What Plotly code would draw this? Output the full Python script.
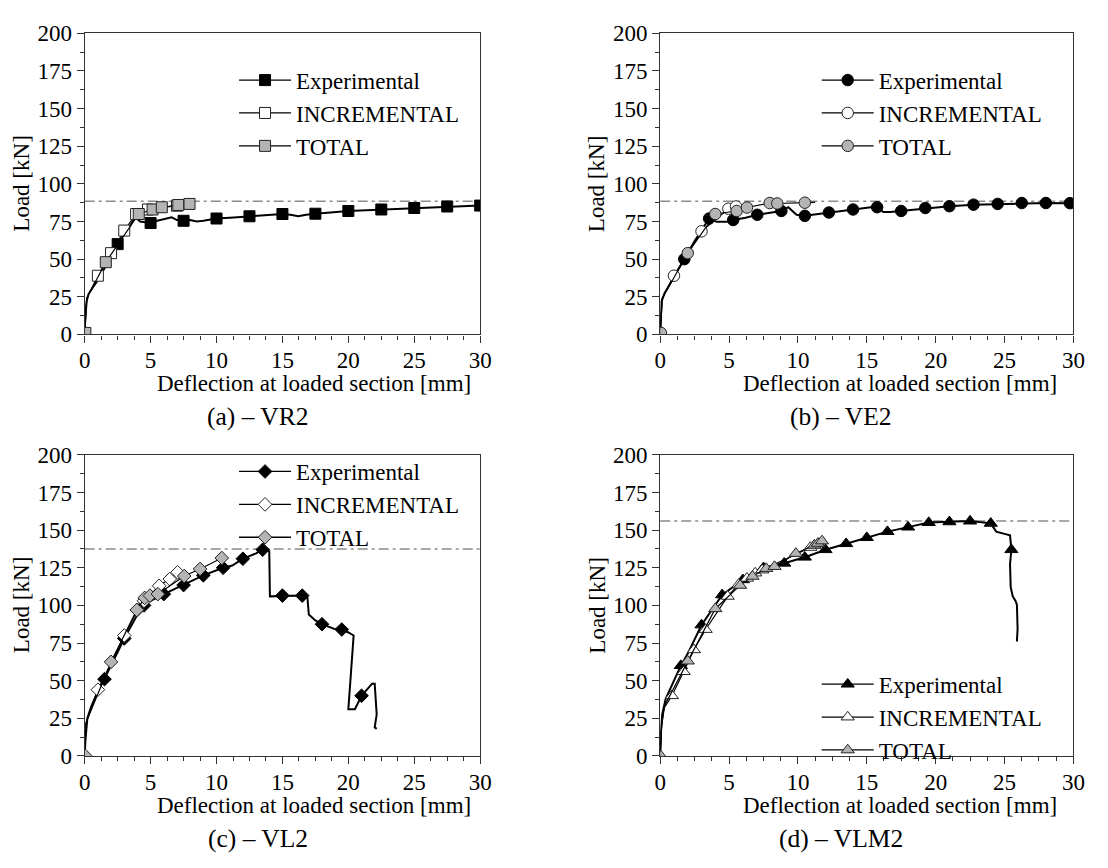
import plotly.graph_objects as go

FONT = "Liberation Serif, Times New Roman, serif"
FS = 23
W, H = 1108, 868

legend_names = ["Experimental", "INCREMENTAL", "TOTAL"]
x_title = "Deflection at loaded section [mm]"
y_title = "Load [kN]"
captions = ["(a) – VR2", "(b) – VE2", "(c) – VL2", "(d) – VLM2"]

# ---------------- (a) VR2 ----------------
a_exp_x = [0, 0.05, 0.15, 0.3, 0.6, 1.0, 1.5, 2.0, 2.5, 3.0, 3.5, 3.85, 4.2, 4.5, 5.0, 5.5, 6.0, 6.6, 7.0, 7.5,
           8.0, 8.5, 9.0, 10.0, 11.0, 12.5, 14.0, 15.0, 15.6, 16.2, 16.8, 17.5, 20.0, 22.5, 25.0, 27.5, 30.0]
a_exp_y = [0, 12, 22, 27, 31, 36, 44, 52, 60, 67, 73, 78, 75, 74.5, 74, 75.5, 76.5, 77.8, 76, 75.5,
           76, 75, 75.5, 77, 77.5, 78.5, 79.5, 80, 79.5, 78.5, 79.5, 80.2, 82, 83, 84, 85, 85.6]
a_exp_mx = [2.5, 5.0, 7.5, 10.0, 12.5, 15.0, 17.5, 20.0, 22.5, 25.0, 27.5, 30.0]
a_exp_my = [60, 74, 75.5, 77, 78.5, 80, 80.2, 82, 83, 84, 85, 85.6]
a_inc_x = [0, 0.15, 1.0, 2.0, 3.0, 3.9, 4.8, 7.0]
a_inc_y = [0, 24, 39, 54, 69, 80, 83, 85.5]
a_inc_mx = [1.0, 2.0, 3.0, 3.9, 4.8, 7.0]
a_inc_my = [39, 54, 69, 80, 83, 85.5]
a_tot_x = [0, 0.15, 1.6, 4.1, 5.15, 5.85, 7.1, 7.95]
a_tot_y = [0, 24, 48, 80, 83, 84.5, 86, 86.7]
a_tot_mx = [0.05, 1.6, 4.1, 5.15, 5.85, 7.1, 7.95]
a_tot_my = [1, 48, 80, 83, 84.5, 86, 86.7]
a_peak = 88.5

# ---------------- (b) VE2 ----------------
b_exp_x = [0, 0.1, 0.3, 1.0, 1.75, 2.5, 3.2, 3.55, 4.1, 5.0, 5.3, 6.2, 7.05, 8.0, 8.8, 9.3, 9.9, 10.5, 11.5, 12.25,
           14.0, 15.3, 15.75, 16.2, 16.7, 17.5, 19.25, 21.0, 22.75, 24.5, 26.25, 28.0, 29.75, 30.0]
b_exp_y = [0, 22, 27, 38, 50, 62, 72, 77, 74.8, 74.8, 76, 77.5, 79.5, 81, 82, 84.5, 79.5, 78.8, 80, 81,
           83, 84.5, 84.5, 81.3, 81.3, 82, 84, 85.2, 86.2, 86.7, 87.3, 87.3, 87.2, 87.2]
b_exp_mx = [1.75, 3.55, 5.3, 7.05, 8.8, 10.5, 12.25, 14.0, 15.75, 17.5, 19.25, 21.0, 22.75, 24.5, 26.25, 28.0, 29.75]
b_exp_my = [50, 77, 76, 79.5, 82, 78.8, 81, 83, 84.5, 82, 84, 85.2, 86.2, 86.7, 87.3, 87.3, 87.2]
b_inc_x = [0, 0.15, 1.0, 3.0, 4.95, 5.5]
b_inc_y = [0, 24, 39, 68.5, 83.5, 85]
b_inc_mx = [1.0, 3.0, 4.95, 5.5]
b_inc_my = [39, 68.5, 83.5, 85]
b_tot_x = [0, 0.15, 2.0, 4.0, 5.55, 6.3, 7.95, 8.5, 10.5, 11.25]
b_tot_y = [0, 24, 54, 80, 82, 84.3, 87.3, 87, 87.5, 87.7]
b_tot_mx = [0.05, 2.0, 4.0, 5.55, 6.3, 7.95, 8.5, 10.5]
b_tot_my = [1, 54, 80, 82, 84.3, 87.3, 87, 87.5]
b_peak = 88.5

# ---------------- (c) VL2 ----------------
c_exp_x = [0, 0.05, 0.2, 0.5, 1.0, 1.5, 2.0, 3.0, 4.0, 4.5, 5.0, 6.0, 7.5, 9.0, 10.5, 11.2, 12.0, 13.0, 13.5, 14.0,
           14.05, 14.5, 15.0, 16.5, 16.9, 17.0, 17.5, 18.0, 18.9, 19.5, 20.0, 20.4, 20.0, 20.5, 21.0, 21.8, 22.0, 22.15, 22.0, 22.15]
c_exp_y = [0, 10, 25, 33, 43, 51, 60, 78, 94, 100, 103, 107.5, 113.5, 120, 125, 126.5, 131, 134.5, 137, 136,
           106, 106, 106.5, 106.5, 105, 94, 90, 87.5, 84.5, 84, 82, 80, 31, 31, 40, 48, 48, 27.5, 19, 18]
c_exp_mx = [1.5, 3.0, 4.5, 6.0, 7.5, 9.0, 10.5, 12.0, 13.5, 15.0, 16.5, 18.0, 19.5, 21.0]
c_exp_my = [51, 78, 100, 107.5, 113.5, 120, 125, 131, 137, 106.5, 106.5, 87.5, 84, 40]
c_inc_x = [0, 0.1, 1.0, 3.0, 4.0, 4.5, 5.65, 6.45, 7.05]
c_inc_y = [0, 22, 44, 80, 97, 103, 113, 117.5, 122]
c_inc_mx = [1.0, 3.0, 4.0, 4.5, 5.65, 6.45, 7.05]
c_inc_my = [44, 80, 97, 103, 113, 117.5, 122]
c_tot_x = [0, 0.1, 2.0, 3.95, 4.55, 4.95, 5.55, 7.55, 8.75, 10.4]
c_tot_y = [0, 22, 62.5, 97, 105, 106.5, 107.5, 119.5, 124.2, 131.5]
c_tot_mx = [0.05, 2.0, 3.95, 4.55, 4.95, 5.55, 7.55, 8.75, 10.4]
c_tot_my = [0, 62.5, 97, 105, 106.5, 107.5, 119.5, 124.2, 131.5]
c_peak = 137.5

# ---------------- (d) VLM2 ----------------
d_exp_x = [0, 0.05, 0.15, 0.4, 1.0, 1.5, 2.0, 3.0, 4.5, 6.0, 7.5, 9.0, 10.5, 12.0, 13.5, 15.0, 16.5, 18.0, 19.5, 21.0,
           22.5, 24.0, 24.4, 25.0, 25.4, 25.5, 25.4, 25.45, 25.6, 25.8, 25.9, 25.95, 25.9]
d_exp_y = [0, 15, 28, 38, 50, 60, 68, 87, 107, 117, 125, 128, 132, 137, 141, 145, 149, 152, 155, 155.5,
           156, 154.5, 149, 147.5, 146.5, 137, 127.5, 112, 106, 103, 100.5, 84.5, 76]
d_exp_mx = [1.5, 3.0, 4.5, 6.0, 7.5, 9.0, 10.5, 12.0, 13.5, 15.0, 16.5, 18.0, 19.5, 21.0, 22.5, 24.0, 25.5]
d_exp_my = [60, 87, 107, 117, 125, 128, 132, 137, 141, 145, 149, 152, 155, 155.5, 156, 154.5, 137]
d_inc_x = [0, 0.1, 0.3, 0.85, 1.7, 2.45, 3.3, 4.9, 5.7, 6.3, 6.9, 7.4, 10.9, 11.2, 11.5]
d_inc_y = [0, 20, 32, 40, 56, 70.5, 84, 106, 114, 118, 121.5, 123.5, 138.5, 140, 141]
d_inc_mx = [0.85, 1.7, 2.45, 3.3, 4.9, 5.7, 6.3, 6.9, 7.4, 10.9, 11.2, 11.5]
d_inc_my = [40, 56, 70.5, 84, 106, 114, 118, 121.5, 123.5, 138.5, 140, 141]
d_tot_x = [0, 0.1, 0.3, 2.0, 4.0, 5.8, 6.7, 7.7, 8.3, 9.85, 11.2, 11.45, 11.75]
d_tot_y = [0, 20, 33, 63, 97.8, 113.3, 119.3, 124.5, 125.8, 134.5, 140, 141.2, 142.8]
d_tot_mx = [0.05, 2.0, 4.0, 5.8, 6.7, 7.7, 8.3, 9.85, 11.2, 11.45, 11.75]
d_tot_my = [0, 63, 97.8, 113.3, 119.3, 124.5, 125.8, 134.5, 140, 141.2, 142.8]
d_peak = 156

x_range = [0, 30]
y_range = [0, 200]

# ---------------- layout geometry (pixels) ----------------
cols_px = [(80, 482), (665, 1085)]
rows_px = [(22, 332), (456, 766)]

panels = [
    dict(exp=(a_exp_x, a_exp_y), expm=(a_exp_mx, a_exp_my), inc=(a_inc_x, a_inc_y), incm=(a_inc_mx, a_inc_my),
         tot=(a_tot_x, a_tot_y), totm=(a_tot_mx, a_tot_my), peak=a_peak, sym="square", size=11,
         col=0, row=0, leg_top=48),
    dict(exp=(b_exp_x, b_exp_y), expm=(b_exp_mx, b_exp_my), inc=(b_inc_x, b_inc_y), incm=(b_inc_mx, b_inc_my),
         tot=(b_tot_x, b_tot_y), totm=(b_tot_mx, b_tot_my), peak=b_peak, sym="circle", size=11.5,
         col=1, row=0, leg_top=48),
    dict(exp=(c_exp_x, c_exp_y), expm=(c_exp_mx, c_exp_my), inc=(c_inc_x, c_inc_y), incm=(c_inc_mx, c_inc_my),
         tot=(c_tot_x, c_tot_y), totm=(c_tot_mx, c_tot_my), peak=c_peak, sym="diamond", size=10.5,
         col=0, row=1, leg_top=451),
    dict(exp=(d_exp_x, d_exp_y), expm=(d_exp_mx, d_exp_my), inc=(d_inc_x, d_inc_y), incm=(d_inc_mx, d_inc_my),
         tot=(d_tot_x, d_tot_y), totm=(d_tot_mx, d_tot_my), peak=d_peak, sym="triangle-up", size=11.5,
         col=1, row=1, leg_top=670),
]

GRAY = "#b4b4b4"
EDGE = "#222222"
AX = "#333333"
fills = ["black", "white", GRAY]

fig = go.Figure()
layout = dict(
    width=W, height=H, margin=dict(l=0, r=0, t=0, b=0),
    paper_bgcolor="white", plot_bgcolor="white",
    font=dict(family=FONT, size=FS, color="black"),
    annotations=[], shapes=[],
)

for i, p in enumerate(panels):
    n = "" if i == 0 else str(i + 1)
    xa, ya = "x" + n, "y" + n
    leg = "legend" + n
    x0, x1 = cols_px[p["col"]]
    y0, y1 = rows_px[p["row"]]
    wpx = x1 - x0
    axis_common = dict(
        showgrid=False, zeroline=False, showline=True, linecolor=AX, linewidth=1.3, mirror=True,
        ticks="outside", ticklen=7, tickwidth=1.3, tickcolor=AX,
        tickfont=dict(family=FONT, size=FS, color="black"),
    )
    layout["xaxis" + n] = dict(axis_common, domain=[x0 / W, x1 / W], anchor=ya, range=x_range,
                               dtick=5, tick0=0, ticklabelstandoff=-2,
                               minor=dict(dtick=1.25, ticks="outside", ticklen=4, tickwidth=1.3,
                                          tickcolor=AX, showgrid=False))
    layout["yaxis" + n] = dict(axis_common, domain=[1 - y1 / H, 1 - y0 / H], anchor=xa, range=y_range,
                               dtick=25, tick0=0,
                               minor=dict(dtick=12.5, ticks="outside", ticklen=4, tickwidth=1.3,
                                          tickcolor=AX, showgrid=False))
    # dash-dot reference (peak load)
    layout["shapes"].append(dict(type="line", xref=xa + " domain", x0=0, x1=1, yref=ya, y0=p["peak"], y1=p["peak"],
                                 line=dict(color="#8c8c8c", width=1.5, dash="10px,4px,3px,4px"), layer="below"))

    series = [("exp", "expm", 2.0), ("inc", "incm", 1.2), ("tot", "totm", 1.2)]
    for k, (ln, mk, lw) in enumerate(series):
        lx, ly = p[ln]
        mx, my = p[mk]
        fig.add_trace(go.Scatter(x=lx, y=ly, mode="lines", line=dict(color="black", width=lw),
                                 xaxis=xa, yaxis=ya, showlegend=False, hoverinfo="skip"))
        fig.add_trace(go.Scatter(x=mx, y=my, mode="markers",
                                 marker=dict(symbol=p["sym"], size=p["size"], color=fills[k],
                                             line=dict(color=EDGE if k else "black", width=1)),
                                 xaxis=xa, yaxis=ya, showlegend=False))
    for k in range(3):
        fig.add_trace(go.Scatter(x=[None], y=[None], mode="lines+markers", name=legend_names[k],
                                 line=dict(color="black", width=1.3),
                                 marker=dict(symbol=p["sym"], size=p["size"], color=fills[k],
                                             line=dict(color=EDGE if k else "black", width=1)),
                                 xaxis=xa, yaxis=ya, legend=leg, showlegend=True))
    layout[leg] = dict(x=(x0 + 0.405 * wpx - 11) / W, y=1 - p["leg_top"] / H, xanchor="left", yanchor="top",
                       bgcolor="rgba(0,0,0,0)", borderwidth=0, itemwidth=52,
                       font=dict(family=FONT, size=FS, color="black"), tracegroupgap=0)

    # axis titles and caption
    layout["annotations"].append(dict(text=x_title, xref="paper", yref="paper", x=(x0 + 0.58 * wpx) / W,
                                      y=1 - (y1 + 51) / H, xanchor="center", yanchor="middle", showarrow=False,
                                      font=dict(family=FONT, size=FS)))
    layout["annotations"].append(dict(text=y_title, xref="paper", yref="paper", x=(x0 - 64) / W,
                                      y=1 - ((y0 + y1) / 2) / H, xanchor="center", yanchor="middle",
                                      textangle=-90, showarrow=False, font=dict(family=FONT, size=FS)))
    layout["annotations"].append(dict(text=captions[i], xref="paper", yref="paper", x=(x0 + 0.438 * wpx) / W,
                                      y=1 - (y1 + 85) / H, xanchor="center", yanchor="middle", showarrow=False,
                                      font=dict(family=FONT, size=25.5)))

fig.update_layout(**layout)
fig.write_html("out.html")
